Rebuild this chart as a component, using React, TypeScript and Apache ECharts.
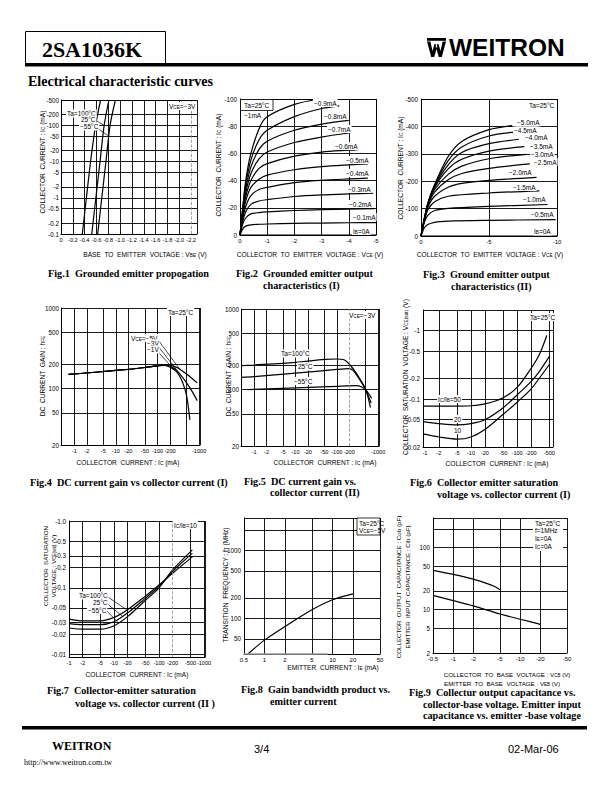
import React, { useEffect, useRef } from "react";
import * as echarts from "echarts";

const L = (v: number) => Math.log10(v);
const SANS = "'Liberation Sans', Arial, Helvetica, sans-serif";
const SERIF = "'Liberation Serif', 'Times New Roman', serif";

// ---------------- Fig.1 Grounded emitter propagation ----------------
const f1XVals = [0, 0.2, 0.4, 0.6, 0.8, 1.0, 1.2, 1.4, 1.6, 1.8, 2.0, 2.2];
const f1XText = ["0", "-0.2", "-0.4", "-0.6", "-0.8", "-1.0", "-1.2", "-1.4", "-1.6", "-1.8", "-2.0", "-2.2"];
const f1XGrid = [0.2, 0.4, 0.6, 0.8, 1.0, 1.2, 1.4, 1.6, 1.8, 2.0];
const f1YVals = [0.1, 0.2, 0.5, 1, 2, 5, 10, 20, 50, 100, 200, 500];
const f1YText = ["-0.1", "-0.2", "-0.5", "-1", "-2", "-5", "-10", "-20", "-50", "-100", "-200", "-500"];
const f1Ic = [0.1, 1, 10, 100, 500];
const f1Vbe100 = [0.36, 0.43, 0.5, 0.585, 0.67];
const f1Vbe25 = [0.52, 0.59, 0.66, 0.73, 0.81];
const f1VbeM55 = [0.62, 0.69, 0.76, 0.83, 0.92];

// ---------------- Fig.2 Output characteristics (I) ----------------
const f2XVals = [0, 1, 2, 3, 4, 5];
const f2XText = ["0", "-1", "-2", "-3", "-4", "-5"];
const f2YVals = [0, 20, 40, 60, 80, 100];
const f2YText = ["0", "-20", "-40", "-60", "-80", "-100"];
const f2Ib0 = [[0, 0], [5, 0]];
const f2Ib01 = [[0, 0], [0.1, 4.5], [0.21, 6.5], [0.4, 7.5], [0.7, 7.9], [1, 8.1], [2, 8.5], [3, 8.8], [4, 9], [5, 9.1]];
const f2Ib02 = [[0, 0], [0.1, 8], [0.21, 12.5], [0.4, 15.5], [0.7, 16.5], [1, 17], [2, 18], [3, 18.6], [4, 19], [4.95, 19.4]];
const f2Ib03 = [[0, 0], [0.1, 10], [0.21, 17], [0.4, 22.5], [0.7, 25], [1, 26], [2, 28.3], [3, 29.5], [4, 30.2], [4.9, 30.7]];
const f2Ib04 = [[0, 0], [0.1, 12], [0.21, 21], [0.4, 29], [0.7, 33.5], [1, 35], [2, 38.5], [3, 40.2], [4, 41.2], [4.7, 41.8]];
const f2Ib05 = [[0, 0], [0.1, 14], [0.21, 25], [0.4, 35], [0.7, 41], [1, 44], [2, 48], [3, 50.3], [4, 51.6], [4.7, 52.3]];
const f2Ib06 = [[0, 0], [0.1, 16], [0.21, 28], [0.4, 40], [0.7, 49], [1, 52.5], [2, 58], [3, 61], [4, 62.3], [4.35, 62.7]];
const f2Ib07 = [[0, 0], [0.1, 17], [0.21, 31], [0.4, 45], [0.7, 56], [1, 61], [2, 68], [3, 72], [4, 75]];
const f2Ib08 = [[0, 0], [0.1, 18], [0.21, 34], [0.4, 50], [0.7, 63], [1, 69], [2, 77], [3, 81.5], [4, 84.3]];
const f2Ib09 = [[0, 0], [0.1, 19], [0.21, 37], [0.4, 55], [0.7, 70], [1, 77], [2, 87], [3, 93], [3.65, 95]];
const f2Ib10 = [[0, 0], [0.1, 20], [0.21, 40], [0.4, 60], [0.74, 80], [1, 87], [2, 96], [2.9, 100]];
const f2Labels = ["−0.9mA", "−0.8mA", "−0.7mA", "−0.6mA", "−0.5mA", "−0.4mA", "−0.3mA", "−0.2mA", "−0.1mA", "I{s|B}=0A"];

// ---------------- Fig.3 Output characteristics (II) ----------------
const f3XVals = [0, 5, 10];
const f3XText = ["0", "-5", "-10"];
const f3YVals = [0, 100, 200, 300, 400, 500];
const f3YText = ["0", "-100", "-200", "-300", "-400", "-500"];
const f3Ib0 = [[0, 0], [10, 0]];
const f3Ib05 = [[0, 0], [0.25, 30], [0.5, 42], [1, 50], [2, 54], [5, 57], [9.9, 60]];
const f3Ib10 = [[0, 0], [0.25, 50], [0.5, 75], [1, 93], [2, 101], [5, 108], [9.3, 115]];
const f3Ib15 = [[0, 0], [0.25, 55], [0.5, 95], [1, 125], [2, 145], [5, 157], [8.7, 165]];
const f3Ib20 = [[0, 0], [0.25, 58], [0.5, 105], [1, 145], [2, 178], [3, 192], [5, 203], [8.5, 214]];
const f3Ib25 = [[0, 0], [0.25, 60], [0.5, 110], [1, 160], [2, 205], [3, 228], [5, 247], [8, 263]];
const f3Ib30 = [[0, 0], [0.25, 62], [0.5, 113], [1, 170], [2, 225], [3, 255], [5, 282], [7.75, 298]];
const f3Ib35 = [[0, 0], [0.25, 63], [0.5, 115], [1, 177], [2, 245], [3, 280], [5, 310], [7.6, 326]];
const f3Ib40 = [[0, 0], [0.25, 64], [0.5, 117], [1, 182], [2, 260], [3, 305], [5, 337], [7.2, 353]];
const f3Ib45 = [[0, 0], [0.25, 65], [0.5, 118], [1, 185], [2, 275], [3, 325], [5, 365], [6.9, 379]];
const f3Ib50 = [[0, 0], [0.25, 65], [0.5, 119], [1, 188], [2, 290], [3, 345], [5, 388], [6.7, 403]];
const f3Labels = ["−5.0mA", "−4.5mA", "−4.0mA", "−3.5mA", "−3.0mA", "−2.5mA", "−2.0mA", "−1.5mA", "−1.0mA", "−0.5mA", "I{s|B}=0A"];

// ---------------- Fig.4 / Fig.5 DC current gain ----------------
const icVals = [1, 2, 5, 10, 20, 50, 100, 200, 500, 1000];
const icText = ["-1", "-2", "-5", "-10", "-20", "-50", "-100", "-200", "-500", "-1000"];
const hfeVals = [20, 50, 100, 200, 500, 1000];
const hfeText = ["20", "50", "100", "200", "500", "1000"];
const hfeGrid = [50, 100, 200, 500];
const f4V5 = [[0.73, 150], [1, 152], [10, 168], [50, 183], [100, 192], [150, 198], [200, 196], [300, 182], [500, 152], [900, 118]];
const f4V3 = [[0.73, 150], [1, 152], [10, 168], [50, 183], [100, 192], [150, 197], [200, 190], [300, 165], [500, 118], [700, 90], [900, 71]];
const f4V1 = [[0.73, 150], [1, 152], [10, 168], [50, 183], [100, 192], [150, 194], [200, 184], [300, 158], [400, 120], [500, 82], [560, 55], [600, 41]];
const f5T100 = [[0.48, 198], [1, 202], [10, 218], [50, 237], [100, 240], [150, 235], [200, 208], [300, 158], [500, 100], [650, 60]];
const f5T25 = [[0.48, 142], [1, 145], [10, 160], [100, 178], [200, 182], [250, 172], [300, 152], [400, 122], [500, 100], [680, 68]];
const f5TM55 = [[0.7, 100], [1, 101], [10, 105], [100, 110], [300, 112], [400, 108], [500, 100], [700, 78]];

// ---------------- Fig.6 Vce(sat) vs Ic (I) ----------------
const f6XVals = [1, 2, 5, 10, 20, 50, 100, 200, 500];
const f6XText = ["-1", "-2", "-5", "-10", "-20", "-50", "-100", "-200", "-500"];
const f6XGrid = [2, 5, 10, 20, 50, 100, 200, 500];
const f6YVals = [0.02, 0.05, 0.1, 0.2, 0.5, 1];
const f6YText = ["-0.02", "-0.05", "-0.1", "-0.2", "-0.5", "-1"];
const f6YGrid = [0.05, 0.1, 0.2, 0.5, 1];
const f6R50 = [[0.91, 0.079], [5, 0.079], [10, 0.08], [20, 0.085], [50, 0.105], [100, 0.148], [200, 0.28], [300, 0.44], [440, 0.85]];
const f6R20 = [[0.91, 0.047], [2, 0.044], [5, 0.042], [10, 0.044], [20, 0.05], [50, 0.075], [100, 0.115], [200, 0.18], [300, 0.25], [500, 0.42]];
const f6R10 = [[0.91, 0.031], [2, 0.028], [5, 0.026], [10, 0.028], [20, 0.036], [50, 0.06], [100, 0.09], [200, 0.14], [300, 0.2], [500, 0.32]];

// ---------------- Fig.7 Vce(sat) vs Ic (II) ----------------
const f7XGrid = [2, 5, 10, 20, 50, 100, 500, 1000];
const f7YVals = [0.01, 0.02, 0.03, 0.05, 0.1, 0.2, 0.3, 0.5, 1];
const f7YText = ["-0.01", "-0.02", "-0.03", "-0.05", "-0.1", "-0.2", "-0.3", "-0.5", "-1.0"];
const f7YGrid = [0.01, 0.02, 0.03, 0.05, 0.1, 0.2, 0.3, 0.5];
const f7T100 = [[1, 0.034], [2, 0.032], [5, 0.032], [10, 0.036], [20, 0.047], [50, 0.075], [100, 0.11], [200, 0.165], [550, 0.29]];
const f7T25 = [[1, 0.029], [2, 0.028], [5, 0.028], [10, 0.031], [20, 0.042], [50, 0.07], [100, 0.105], [200, 0.175], [550, 0.33]];
const f7TM55 = [[1, 0.025], [2, 0.024], [5, 0.024], [10, 0.027], [20, 0.037], [50, 0.065], [100, 0.1], [200, 0.185], [550, 0.37]];

// ---------------- Fig.8 Gain bandwidth product ----------------
const f8XVals = [0.5, 1, 2, 5, 10, 20, 50];
const f8XText = ["0.5", "1", "2", "5", "10", "20", "50"];
const f8XGrid = [1, 2, 5, 10, 20];
const f8YVals = [50, 100, 200, 500, 1000];
const f8YText = ["50", "100", "200", "500", "1000"];
const f8YGrid = [50, 100, 200, 500, 1000, 2000];
const f8Ft = [[0.57, 30], [1, 48], [2, 76], [5, 134], [10, 188], [20, 230]];

// ---------------- Fig.9 Capacitance ----------------
const f9XVals = [0.5, 1, 2, 5, 10, 20, 50];
const f9XText = ["-0.5", "-1", "-2", "-5", "-10", "-20", "-50"];
const f9XGrid = [1, 2, 5, 10, 20];
const f9YVals = [2, 5, 10, 20, 50, 100];
const f9YText = ["2", "5", "10", "20", "50", "100"];
const f9YGrid = [5, 10, 20, 50, 100, 200];
const f9Cib = [[0.5, 43], [1, 37], [2, 31], [3, 27], [4, 24], [5, 21]];
const f9Cob = [[0.5, 17], [1, 14], [2, 11.5], [5, 8.5], [10, 7], [20, 5.8]];

// ---------------------------------------------------------------------
type AxSpec = {
  gi: number; min: number; max: number; log: boolean;
  grid: number[]; lab: number[]; text: string[]; margin?: number; fs?: number;
};

function buildAxis(dim: "x" | "y", a: AxSpec) {
  const tf = (v: number) => (a.log ? L(v) : v);
  const min = tf(a.min);
  const max = tf(a.max);
  const labVals = a.lab.map(tf);
  const ticks = [min, max, ...a.grid.map(tf)];
  return {
    type: "value",
    gridIndex: a.gi,
    min,
    max,
    position: dim === "x" ? "bottom" : "left",
    axisLine: { show: true, onZero: false, lineStyle: { color: "#000", width: 1 } },
    axisTick: { show: false, customValues: ticks },
    axisLabel: {
      show: true,
      customValues: labVals,
      formatter: (v: number) => {
        const i = labVals.findIndex((u) => Math.abs(u - v) < 1e-6);
        return i >= 0 ? a.text[i] : "";
      },
      fontSize: a.fs ?? (dim === "x" ? 6 : 6.3),
      fontFamily: SANS,
      color: "#000",
      margin: a.margin ?? 3,
      showMinLabel: true,
      showMaxLabel: true,
      hideOverlap: false,
    },
    splitLine: { show: true, lineStyle: { color: "#000", width: 0.9 } },
    splitArea: { show: false },
    axisPointer: { show: false },
  };
}

function curve(gi: number, pts: number[][], lx: boolean, ly: boolean, extra: any = {}) {
  return {
    type: "line",
    xAxisIndex: gi,
    yAxisIndex: gi,
    symbol: "none",
    silent: true,
    smooth: 0.3,
    lineStyle: { color: "#000", width: 1.2 },
    data: pts.map((p) => [lx ? L(p[0]) : p[0], ly ? L(p[1]) : p[1]]),
    z: 3,
    ...extra,
  };
}

function marks(segs: number[][][], lx: boolean, ly: boolean, vlines: number[] = []) {
  const c = (p: number[]) => [lx ? L(p[0]) : p[0], ly ? L(p[1]) : p[1]];
  return {
    markLine: {
      silent: true,
      symbol: ["none", "none"],
      label: { show: false },
      lineStyle: { color: "#000", width: 0.7, type: "solid" },
      data: [
        ...segs.map(([a, b]) => [{ coord: c(a) }, { coord: c(b) }]),
        ...vlines.map((v) => ({ xAxis: lx ? L(v) : v, lineStyle: { color: "#8a8a8a", type: "dashed", width: 0.8 } })),
      ],
    },
  };
}

const RICH = (fs: number) => ({ s: { fontSize: fs * 0.72, verticalAlign: "bottom" } });

function txt(x: number, y: number, text: string, o: any = {}) {
  const fs = o.fs || 6.5;
  return {
    type: "text",
    x,
    y,
    rotation: o.rot || 0,
    z: 110,
    silent: true,
    style: {
      text,
      fill: "#000",
      fontSize: fs,
      fontFamily: o.ff || SANS,
      fontWeight: o.fw || "normal",
      align: o.align || "left",
      verticalAlign: "middle",
      backgroundColor: o.bg || "transparent",
      padding: o.bg ? [0.5, 1, 0.5, 1] : 0,
      rich: RICH(fs),
    },
  };
}

function box(x: number, y: number, w: number, h: number, stroke = false) {
  return {
    type: "rect",
    z: 105,
    silent: true,
    shape: { x, y, width: w, height: h },
    style: { fill: "#fff", stroke: stroke ? "#000" : "transparent", lineWidth: 0.8 },
  };
}

const cap = (x: number, y: number, t: string) => txt(x, y, t, { fs: 10.2, ff: SERIF, fw: "bold" });
const ytitle = (x: number, y: number, t: string, fs = 6.6) => txt(x, y, t, { fs, rot: Math.PI / 2, align: "center" });
const xtitle = (x: number, y: number, t: string, fs = 6.6) => txt(x, y, t, { fs, align: "center" });

function buildOption() {
  const grids = [
    { left: 61, top: 100, width: 136, height: 134 },
    { left: 240, top: 99, width: 136, height: 136 },
    { left: 421, top: 99, width: 136, height: 137 },
    { left: 61, top: 308, width: 139, height: 137 },
    { left: 241, top: 309, width: 138, height: 137 },
    { left: 423, top: 310, width: 130, height: 137 },
    { left: 69, top: 521, width: 136, height: 136 },
    { left: 244, top: 518, width: 136, height: 136 },
    { left: 433, top: 518, width: 134, height: 135 },
  ].map((g) => ({ ...g, containLabel: false, outerBoundsMode: "none", show: false }));

  const xAxis = [
    buildAxis("x", { gi: 0, min: 0, max: 2.3, log: false, grid: f1XGrid, lab: f1XVals, text: f1XText, fs: 5.6 }),
    buildAxis("x", { gi: 1, min: 0, max: 5, log: false, grid: f2XVals, lab: f2XVals, text: f2XText }),
    buildAxis("x", { gi: 2, min: 0, max: 10, log: false, grid: f3XVals, lab: f3XVals, text: f3XText }),
    buildAxis("x", { gi: 3, min: 0.48, max: 1050, log: true, grid: icVals, lab: icVals, text: icText, fs: 5.6 }),
    buildAxis("x", { gi: 4, min: 0.48, max: 1050, log: true, grid: icVals.filter((v) => v !== 200), lab: icVals, text: icText, fs: 5.6 }),
    buildAxis("x", { gi: 5, min: 0.91, max: 600, log: true, grid: f6XGrid, lab: f6XVals, text: f6XText, fs: 5.6 }),
    buildAxis("x", { gi: 6, min: 1, max: 1050, log: true, grid: f7XGrid, lab: icVals, text: icText, fs: 5.6 }),
    buildAxis("x", { gi: 7, min: 0.5, max: 50, log: true, grid: f8XGrid, lab: f8XVals, text: f8XText }),
    buildAxis("x", { gi: 8, min: 0.5, max: 50, log: true, grid: f9XGrid, lab: f9XVals, text: f9XText }),
  ];
  const yAxis = [
    buildAxis("y", { gi: 0, min: 0.1, max: 500, log: true, grid: f1YVals, lab: f1YVals, text: f1YText, margin: 2 }),
    buildAxis("y", { gi: 1, min: 0, max: 100, log: false, grid: f2YVals, lab: f2YVals, text: f2YText, margin: 3 }),
    buildAxis("y", { gi: 2, min: 0, max: 500, log: false, grid: f3YVals, lab: f3YVals, text: f3YText, margin: 3 }),
    buildAxis("y", { gi: 3, min: 20, max: 1000, log: true, grid: hfeGrid, lab: hfeVals, text: hfeText, margin: 2 }),
    buildAxis("y", { gi: 4, min: 20, max: 1000, log: true, grid: hfeGrid, lab: hfeVals, text: hfeText, margin: 2 }),
    buildAxis("y", { gi: 5, min: 0.02, max: 2, log: true, grid: f6YGrid, lab: f6YVals, text: f6YText, margin: 3 }),
    buildAxis("y", { gi: 6, min: 0.0092, max: 1, log: true, grid: f7YGrid, lab: f7YVals, text: f7YText, margin: 3 }),
    buildAxis("y", { gi: 7, min: 30, max: 3000, log: true, grid: f8YGrid, lab: f8YVals, text: f8YText, margin: 3 }),
    buildAxis("y", { gi: 8, min: 2, max: 300, log: true, grid: f9YGrid, lab: f9YVals, text: f9YText, margin: 3 }),
  ];

  const f1pts = (v: number[]) => f1Ic.map((ic, i) => [v[i], ic]);
  const series: any[] = [
    // Fig.1
    curve(0, f1pts(f1Vbe100), false, true, marks(
      [[[0.55, 150], [0.73, 100]], [[0.56, 96], [0.81, 50]]], false, true, [2.2])),
    curve(0, f1pts(f1Vbe25), false, true),
    curve(0, f1pts(f1VbeM55), false, true),
    // Fig.2
    ...[f2Ib0, f2Ib01, f2Ib02, f2Ib03, f2Ib04, f2Ib05, f2Ib06, f2Ib07, f2Ib08, f2Ib09, f2Ib10].map((d) => curve(1, d, false, false)),
    // Fig.3
    ...[f3Ib0, f3Ib05, f3Ib10, f3Ib15, f3Ib20, f3Ib25, f3Ib30, f3Ib35, f3Ib40, f3Ib45, f3Ib50].map((d) => curve(2, d, false, false)),
    // Fig.4
    curve(3, f4V5, true, true, marks(
      [[[95, 425], [350, 172]], [[92, 363], [300, 166]], [[92, 306], [250, 172]]], true, true)),
    curve(3, f4V3, true, true),
    curve(3, f4V1, true, true),
    // Fig.5
    curve(4, f5T100, true, true, marks([], true, true, [200])),
    curve(4, f5T25, true, true),
    curve(4, f5TM55, true, true),
    // Fig.6
    curve(5, f6R50, true, true),
    curve(5, f6R20, true, true),
    curve(5, f6R10, true, true),
    // Fig.7
    curve(6, f7T100, true, true, marks(
      [[[6.6, 0.0763], [19, 0.047]], [[6.6, 0.0599], [15, 0.038]], [[6.6, 0.0462], [12, 0.031]]], true, true, [200])),
    curve(6, f7T25, true, true),
    curve(6, f7TM55, true, true),
    // Fig.8
    curve(7, f8Ft, true, true, {
      markLine: {
        silent: true, symbol: ["none", "none"], label: { show: false },
        lineStyle: { color: "#9a9a9a", width: 1.6, type: "solid" },
        data: [[{ coord: [L(0.5), L(30.5)] }, { coord: [L(8.5), L(30.5)] }]],
      },
    }),
    // Fig.9
    curve(8, f9Cib, true, true),
    curve(8, f9Cob, true, true),
  ];

  const f2LabPos = [[313, 103], [323, 116], [327, 129], [334, 146], [345, 160], [345, 173], [347, 189], [348, 204], [352, 217], [352, 231]];
  const f3LabPos = [[516, 122.5], [513, 130.5], [524, 137.5], [529, 146.5], [530, 154], [533, 162], [508, 172], [512, 187], [522, 199], [530, 214], [533, 231.5]];

  const graphic: any[] = [
    // header
    { type: "rect", z: 100, silent: true, shape: { x: 25.5, y: 31.5, width: 140, height: 32 }, style: { fill: "transparent", stroke: "#000", lineWidth: 1 } },
    { type: "rect", z: 100, silent: true, shape: { x: 25, y: 63, width: 563, height: 3.5 }, style: { fill: "#000" } },
    txt(92, 49, "2SA1036K", { fs: 22, ff: SERIF, fw: "bold", align: "center" }),
    { type: "rect", z: 100, silent: true, shape: { x: 427, y: 38, width: 19, height: 2.8 }, style: { fill: "#000" } },
    {
      type: "polygon", z: 100, silent: true,
      shape: { points: [[427, 41.5], [430.4, 41.5], [432.5, 51], [434.5, 44], [438.5, 44], [440.5, 51], [442.6, 41.5], [446, 41.5], [441.8, 57], [438.8, 57], [436.5, 49], [434.2, 57], [431.2, 57]] },
      style: { fill: "#000" },
    },
    { type: "rect", z: 101, silent: true, shape: { x: 435.8, y: 41.5, width: 1.4, height: 6 }, style: { fill: "#fff" } },
    txt(449, 47.5, "WEITRON", { fs: 24.5, fw: "bold" }),
    txt(28, 81, "Electrical characteristic curves", { fs: 14, ff: SERIF, fw: "bold" }),

    // footer
    { type: "rect", z: 100, silent: true, shape: { x: 22, y: 726, width: 565, height: 3.5 }, style: { fill: "#000" } },
    txt(52, 746, "WEITRON", { fs: 12, ff: SERIF, fw: "bold" }),
    txt(24, 762, "http://www.weitron.com.tw", { fs: 8, ff: SERIF }),
    txt(254, 749, "3/4", { fs: 11 }),
    txt(508, 749, "02-Mar-06", { fs: 11 }),

    // Fig.1
    ytitle(42, 162, "COLLECTOR  CURRENT : I{s|C} (mA)"),
    xtitle(145, 254, "BASE  TO  EMITTER  VOLTAGE : V{s|BE} (V)"),
    txt(168, 106, "V{s|CE}=−3V", { bg: "#fff" }),
    txt(66, 113.5, "Ta=100°C", { bg: "#fff" }),
    txt(80, 119.5, "25°C", { bg: "#fff" }),
    txt(79, 126.5, "−55°C", { bg: "#fff" }),
    cap(48, 273, "Fig.1  Grounded emitter propogation"),

    // Fig.2
    ytitle(218, 165, "COLLECTOR  CURRENT : I{s|C} (mA)"),
    xtitle(310, 254, "COLLECTOR  TO  EMITTER  VOLTAGE : V{s|CE} (V)"),
    box(240.5, 99.5, 32.5, 11, true),
    txt(256.7, 105, "Ta=25°C", { align: "center" }),
    txt(243, 115, "−1mA", { bg: "#fff" }),
    ...f2Labels.map((t, i) => txt(f2LabPos[i][0], f2LabPos[i][1], t, { bg: "#fff" })),
    cap(236, 273, "Fig.2  Grounded emitter output"),
    cap(263, 285, "characteristics (I)"),

    // Fig.3
    ytitle(400, 168, "COLLECTOR  CURRENT : I{s|C} (mA)"),
    xtitle(490, 254, "COLLECTOR  TO  EMITTER  VOLTAGE : V{s|CE} (V)"),
    txt(528, 105, "Ta=25°C", { bg: "#fff" }),
    ...f3Labels.map((t, i) => txt(f3LabPos[i][0], f3LabPos[i][1], t, { bg: "#fff" })),
    cap(423, 274, "Fig.3  Ground emitter output"),
    cap(451, 286, "characteristics (II)"),

    // Fig.4
    ytitle(42, 376, "DC  CURRENT  GAIN : h{s|FE}"),
    xtitle(128, 462, "COLLECTOR  CURRENT : I{s|C} (mA)"),
    txt(167, 312, "Ta=25°C", { bg: "#fff" }),
    txt(130, 338, "V{s|CE}=−5V", { bg: "#fff" }),
    txt(146, 343.5, "−3V", { bg: "#fff" }),
    txt(146, 349.5, "−1V", { bg: "#fff" }),
    cap(30, 482, "Fig.4  DC current gain vs collector current (I)"),

    // Fig.5
    ytitle(228, 376, "DC  CURRENT  GAIN : h{s|FE}"),
    xtitle(325, 462, "COLLECTOR  CURRENT : I{s|C} (mA)"),
    txt(348, 315, "V{s|CE}=−3V", { bg: "#fff" }),
    txt(280, 353.5, "Ta=100°C", { bg: "#fff" }),
    txt(297, 366.5, "25°C", { bg: "#fff" }),
    txt(293, 381, "−55°C", { bg: "#fff" }),
    cap(244, 481, "Fig.5  DC current gain vs."),
    cap(270, 492.5, "collector current (II)"),

    // Fig.6
    ytitle(405, 377, "COLLECTOR  SATURATION  VOLTAGE : V{s|CE(sat)} (V)"),
    xtitle(497, 463, "COLLECTOR  CURRENT : I{s|C} (mA)"),
    txt(529, 317, "Ta=25°C", { bg: "#fff" }),
    txt(437, 399, "I{s|C}/I{s|B}=50", { bg: "#fff" }),
    txt(453, 419, "20", { bg: "#fff" }),
    txt(453, 430, "10", { bg: "#fff" }),
    cap(410, 482, "Fig.6  Collector emitter saturation"),
    cap(437, 494, "voltage vs. collector current (I)"),

    // Fig.7
    ytitle(45.5, 566, "COLLECTOR  SATURATION", 6.2),
    ytitle(53.5, 566, "VOLTAGE : V{s|CE(sat)} (V)", 6.2),
    xtitle(137, 674, "COLLECTOR  CURRENT : I{s|C} (mA)"),
    txt(173, 525, "I{s|C}/I{s|B}=10", { bg: "#fff" }),
    txt(78, 595.5, "Ta=100°C", { bg: "#fff" }),
    txt(92, 602.5, "25°C", { bg: "#fff" }),
    txt(87, 610, "−55°C", { bg: "#fff" }),
    cap(47, 690, "Fig.7  Collector-emitter saturation"),
    cap(75, 703, "voltage vs. collector current (II )"),

    // Fig.8
    ytitle(225, 585, "TRANSITION  FREQUENCY : f{s|T} (MHz)"),
    xtitle(333, 667, "EMITTER  CURRENT : I{s|E} (mA)"),
    box(357, 518, 23, 17, true),
    txt(359, 523.5, "Ta=25°C"),
    txt(359, 530.5, "V{s|CE}=−5V"),
    cap(241, 689, "Fig.8  Gain bandwidth product vs."),
    cap(270, 701, "emitter current"),

    // Fig.9
    ytitle(398.5, 587, "COLLECTOR  OUTPUT  CAPACITANCE : Cob (pF)", 6.2),
    ytitle(407, 587, "EMITTER  INPUT  CAPACITANCE : Cib (pF)", 6.2),
    xtitle(507, 674.5, "COLLECTOR  TO  BASE  VOLTAGE : V{s|CB} (V)", 6.2),
    xtitle(502, 683, "EMITTER  TO  BASE  VOLTAGE : V{s|EB} (V)", 6.2),
    box(533, 519, 30, 32, false),
    txt(535, 523.3, "Ta=25°C"),
    txt(535, 530.7, "f=1MHz"),
    txt(535, 538.3, "I{s|E}=0A"),
    txt(535, 546, "I{s|C}=0A"),
    cap(409, 692.5, "Fig.9  Collectur output capacitance vs."),
    cap(423, 704, "collector-base voltage. Emitter input"),
    cap(423, 715.5, "capacitance vs. emitter -base voltage"),
  ];

  return {
    animation: false,
    backgroundColor: "#fff",
    grid: grids,
    xAxis,
    yAxis,
    series,
    graphic,
  };
}

export default function App() {
  const ref = useRef<HTMLDivElement>(null);
  useEffect(() => {
    if (!ref.current) return;
    const chart = echarts.init(ref.current, null, { renderer: "svg", width: 612, height: 792 });
    chart.setOption(buildOption() as any);
    return () => chart.dispose();
  }, []);
  return (
    <div
      ref={ref}
      style={{ position: "absolute", left: 0, top: 0, width: 612, height: 792, background: "#fff" }}
    />
  );
}
